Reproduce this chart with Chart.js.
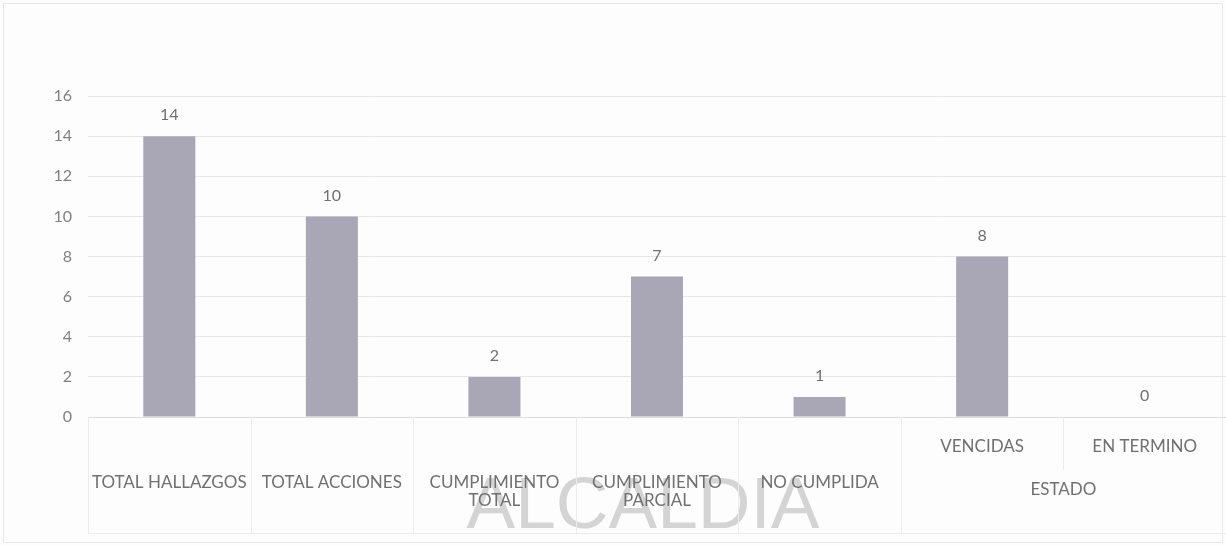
<!DOCTYPE html>
<html>
<head>
<meta charset="utf-8">
<script src="https://cdn.jsdelivr.net/npm/chart.js@4/dist/chart.umd.min.js"></script>
<style>
  html, body { margin: 0; padding: 0; background: #fdfdfd; }
  #wrap { width: 1226px; height: 546px; position: relative; }
</style>
</head>
<body>
<div id="wrap"><canvas id="chart"></canvas></div>
<script>
/* data */
const CATEGORIES = [
  ['', '', 'TOTAL HALLAZGOS'],
  ['', '', 'TOTAL ACCIONES'],
  ['', '', 'CUMPLIMIENTO', 'TOTAL'],
  ['', '', 'CUMPLIMIENTO', 'PARCIAL'],
  ['', '', 'NO CUMPLIDA'],
  ['VENCIDAS'],
  ['EN TERMINO']
];
const VALUES = [14, 10, 2, 7, 1, 8, 0];
const GROUP_LABEL = 'ESTADO';
const GROUP_START = 5;          // first index under ESTADO
const Y_TICKS = [0, 2, 4, 6, 8, 10, 12, 14, 16];
const WATERMARK = 'ALCALDIA';

const FONT = 'Lato, "Liberation Sans", sans-serif';
const TEXT = '#707070';
const LINE = '#e6e6e6';

/* ── background, watermark, category table ──────────────────────────── */
const decor = {
  id: 'decor',
  beforeDraw(chart) {
    const { ctx, width, height } = chart;
    ctx.save();
    ctx.fillStyle = '#fdfdfd';
    ctx.fillRect(0, 0, width, height);
    ctx.strokeStyle = '#e8e8e8';
    ctx.lineWidth = 1;
    ctx.strokeRect(3.5, 3.5, width - 7, height - 7);
    ctx.fillStyle = 'rgba(185,185,185,0.6)';
    ctx.font = '73px "Liberation Sans", Arial, sans-serif';
    ctx.textAlign = 'center';
    ctx.textBaseline = 'alphabetic';
    ctx.fillText(WATERMARK, 643, 528);
    ctx.restore();
  },
  afterDraw(chart) {
    const { ctx, chartArea } = chart;
    const x = chart.scales.x;
    const step = (chartArea.right - chartArea.left) / VALUES.length;
    const top = chartArea.bottom, bottom = 533;
    ctx.save();
    ctx.strokeStyle = '#ececec';
    ctx.lineWidth = 1;
    ctx.beginPath();
    for (let i = 0; i <= VALUES.length; i++) {
      const bx = Math.round(chartArea.left + i * step) + 0.5;
      ctx.moveTo(bx, top);
      ctx.lineTo(bx, i === GROUP_START + 1 ? 470 : bottom);
    }
    ctx.moveTo(chartArea.left, bottom + 0.5);
    ctx.lineTo(chartArea.right, bottom + 0.5);
    ctx.stroke();

    // second level label
    const gx = (x.getPixelForValue(GROUP_START) + x.getPixelForValue(VALUES.length - 1)) / 2;
    ctx.fillStyle = TEXT;
    ctx.font = '17px ' + FONT;
    ctx.textAlign = 'center';
    ctx.textBaseline = 'middle';
    ctx.fillText(GROUP_LABEL, gx, 490);

    // value labels
    const meta = chart.getDatasetMeta(0);
    ctx.font = '16px ' + FONT;
    meta.data.forEach((bar, i) => {
      ctx.fillText(String(VALUES[i]), bar.x, bar.y - 21);
    });
    ctx.restore();
  }
};

new Chart(document.getElementById('chart'), {
  type: 'bar',
  data: {
    labels: CATEGORIES,
    datasets: [{
      data: VALUES,
      backgroundColor: '#a9a7b6',
      borderWidth: 0,
      categoryPercentage: 1,
      barPercentage: 0.32
    }]
  },
  options: {
    responsive: true,
    maintainAspectRatio: false,
    animation: false,
    layout: { padding: { top: 96, right: 0, bottom: 0, left: 0 } },
    plugins: { legend: { display: false }, tooltip: { enabled: false } },
    scales: {
      x: {
        afterFit: s => { s.height = 129; },
        grid: { display: false, drawTicks: false },
        border: { display: true, color: '#dcdcdc' },
        ticks: {
          color: TEXT,
          font: { family: FONT, size: 17, lineHeight: 1.05 },
          padding: 21,
          maxRotation: 0,
          autoSkip: false
        }
      },
      y: {
        min: 0,
        max: 16,
        afterFit: s => { s.width = 88; },
        afterBuildTicks: s => { s.ticks = Y_TICKS.map(v => ({ value: v })); },
        grid: { color: LINE, drawTicks: false },
        border: { display: false },
        ticks: {
          color: '#808080',
          font: { family: FONT, size: 16 },
          padding: 16
        }
      }
    }
  },
  plugins: [decor]
});
</script>
</body>
</html>
